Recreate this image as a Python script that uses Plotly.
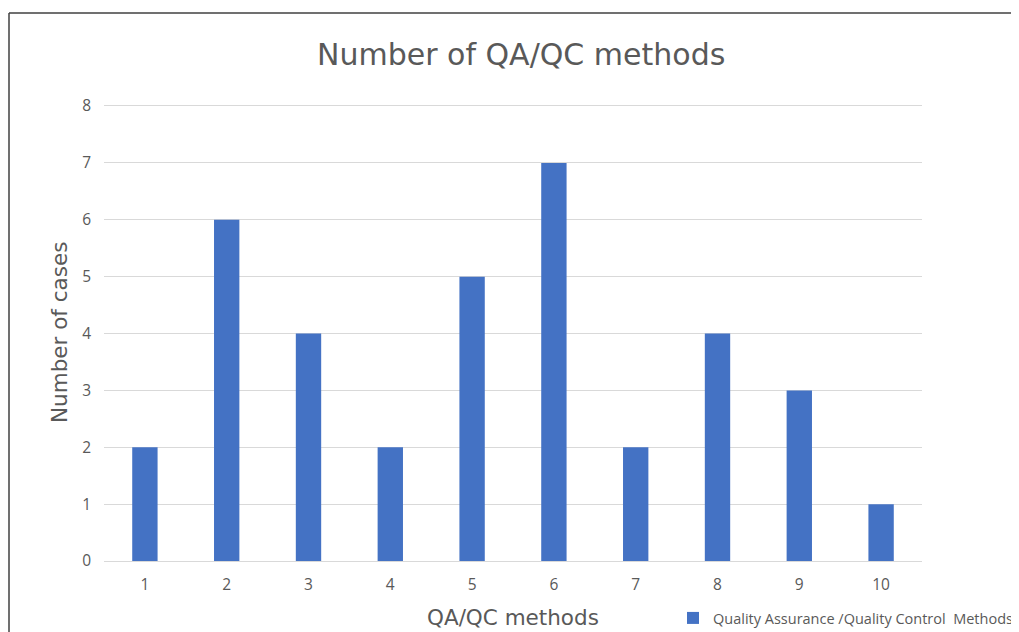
import plotly.graph_objects as go

categories = ["1", "2", "3", "4", "5", "6", "7", "8", "9", "10"]
cases = [2, 6, 4, 2, 5, 7, 2, 4, 3, 1]
series_name = "Quality Assurance /Quality Control  Methods"
y_ticks = [0, 1, 2, 3, 4, 5, 6, 7, 8]

# page has an 8px body margin; figure fills the remaining window
OFF = 8
W, H = 1019 - OFF, 632 - OFF
px = lambda x: (x - OFF) / W
py = lambda y: (H - (y - OFF)) / H

Y_MAX = 8.06
unit = (561 - 106) / 8.0
top_px = 561 - Y_MAX * unit

fig = go.Figure()
fig.add_trace(go.Bar(
    x=categories, y=cases, name=series_name,
    marker=dict(color="#4472C4", line=dict(width=0)),
    showlegend=True,
))

font_tick = "Open Sans"
font_title = "DejaVu Sans"
fig.update_layout(
    width=W, height=H,
    margin=dict(l=0, r=0, t=0, b=0, autoexpand=False),
    paper_bgcolor="white", plot_bgcolor="white",
    bargap=0.69,
    font=dict(family=font_tick, color="#595959"),
    xaxis=dict(
        domain=[px(104), px(922)],
        type="category",
        showgrid=False, zeroline=False,
        showline=True, linecolor="#d9d9d9", linewidth=1,
        ticks="", tickfont=dict(size=15.5, color="#595959"),
        ticklabelstandoff=9,
        automargin=False,
    ),
    yaxis=dict(
        domain=[py(561), py(top_px)],
        range=[0, Y_MAX], tickvals=y_ticks,
        showgrid=True, gridcolor="#d9d9d9", gridwidth=1,
        zeroline=False, showline=False,
        ticks="", tickfont=dict(size=15.5, color="#595959"),
        ticklabelstandoff=12,
        automargin=False,
    ),
    legend=dict(
        x=px(673), y=py(618), xanchor="left", yanchor="middle",
        orientation="h", font=dict(size=14.5, color="#595959"),
        bgcolor="rgba(0,0,0,0)",
    ),
    showlegend=True,
)

fig.add_annotation(text="Number of QA/QC methods", x=px(521), y=py(55),
                   xref="paper", yref="paper", showarrow=False,
                   xanchor="center", yanchor="middle",
                   font=dict(size=30, color="#595959", family=font_title))
fig.add_annotation(text="Number of cases", x=px(60), y=py(333),
                   xref="paper", yref="paper", showarrow=False, textangle=-90,
                   xanchor="center", yanchor="middle",
                   font=dict(size=21.5, color="#595959", family=font_title))
fig.add_annotation(text="QA/QC methods", x=px(513), y=py(617),
                   xref="paper", yref="paper", showarrow=False,
                   xanchor="center", yanchor="middle",
                   font=dict(size=21.5, color="#595959", family=font_title))

# outer chart border (left and top)
fig.add_shape(type="line", xref="paper", yref="paper",
              x0=px(9), y0=0, x1=px(9), y1=py(13),
              line=dict(color="#404040", width=1.5))
fig.add_shape(type="line", xref="paper", yref="paper",
              x0=px(9), y0=py(13), x1=1, y1=py(13),
              line=dict(color="#404040", width=1.5))

fig.write_html("out.html")
